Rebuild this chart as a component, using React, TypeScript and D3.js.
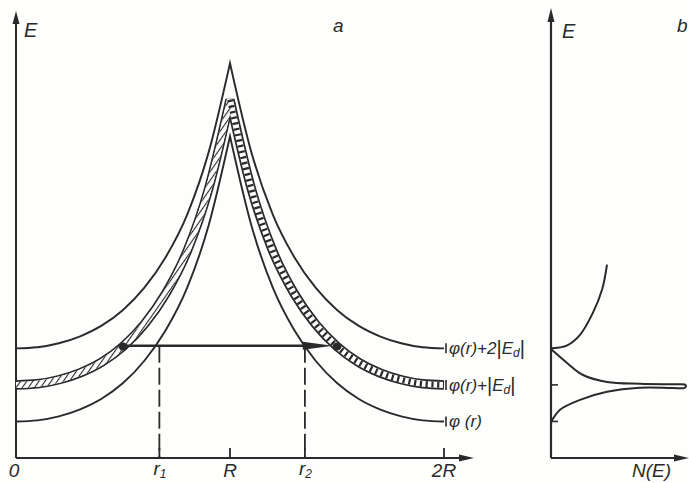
import React from "react";
import * as d3 from "d3";

// ---- data (energy in units of |E_d|, r in units of R) ----
const rFrac = [0, 0.1, 0.2, 0.3, 0.4, 0.5, 0.6, 0.7, 0.8, 0.9, 1.0];
const phiHalf = [0, 0.03, 0.14, 0.33, 0.62, 1.05, 1.66, 2.5, 3.66, 5.36, 7.8];
const levelShifts = [0, 1, 2];
const xTickLabels = ["0", "r1", "R", "r2", "2R"];
const xTickValues = [0, 0.67, 1, 1.35, 2];
const arrowE = 2.07;
const arrowStartR = 0.5;
const arrowTipR = 1.48;
const dotR = [0.5, 1.5];
const dosUpperN = [0, 0.06, 0.12, 0.215, 0.31, 0.378, 0.415];
const dosUpperE = [2.0, 2.02, 2.08, 2.37, 2.97, 3.6, 4.29];
const dosSpikeN = [0, 0.119, 0.237, 0.415, 0.659, 0.9, 0.99, 1.0, 0.99, 0.9, 0.659, 0.415, 0.215, 0.067, 0];
const dosSpikeE = [1.98, 1.6, 1.27, 1.08, 1.03, 1.015, 1.01, 0.97, 0.92, 0.915, 0.92, 0.81, 0.59, 0.32, -0.02];
const dosTicksE = [0, 1];

const W = 689, H = 483;
const INK = "#2a2a2a";
const PAPER = "#fefefc";
const FONT = "'Liberation Sans', Arial, sans-serif";

export default function App() {
  const x = d3.scaleLinear().domain([0, 2]).range([16, 444]);
  const y = d3.scaleLinear().domain([-1, 11.2]).range([458, 12]);
  const n = d3.scaleLinear().domain([0, 1]).range([551, 686]);

  const leftPts = rFrac.map((r, i) => ({ r, p: phiHalf[i] }));
  const rightPts = rFrac.map((r, i) => ({ r: 2 - r, p: phiHalf[i] })).sort((a, b) => a.r - b.r);

  const lineFor = (shift: number) =>
    d3.line<{ r: number; p: number }>()
      .x(d => x(d.r)).y(d => y(d.p + shift))
      .curve(d3.curveMonotoneX);
  const joined = (shift: number) =>
    (lineFor(shift)(leftPts) || "") + (lineFor(shift)(rightPts) || "").replace(/^M/, "L");

  const dosLine = d3.line<[number, number]>()
    .x(d => n(d[0])).y(d => y(d[1]))
    .curve(d3.curveCatmullRom.alpha(0.5));
  const upperPts: [number, number][] = dosUpperN.map((v, i) => [v, dosUpperE[i]]);
  const spikePts: [number, number][] = dosSpikeN.map((v, i) => [v, dosSpikeE[i]]);

  const ay = y(arrowE);
  const tipX = x(arrowTipR);
  const bandL = lineFor(1)(leftPts) || "";
  const bandR = lineFor(1)(rightPts) || "";
  const bandAll = joined(1);

  const txt = { fontFamily: FONT, fontStyle: "italic" as const, fill: INK };

  return (
    <svg width={W} height={H} style={{ position: "absolute", left: 0, top: 0, background: PAPER }}>
      <defs>
        <pattern id="hatch" patternUnits="userSpaceOnUse" width="5" height="5" patternTransform="rotate(35)">
          <rect width="5" height="5" fill={PAPER} />
          <line x1="0" y1="0" x2="0" y2="5" stroke={INK} strokeWidth="2.2" />
        </pattern>
      </defs>

      {/* panel a axes */}
      <line x1={16} y1={458} x2={16} y2={20} stroke={INK} strokeWidth={2} />
      <path d="M16,11 L12.5,24 L19.5,24 Z" fill={INK} />
      <line x1={16} y1={458} x2={462} y2={458} stroke={INK} strokeWidth={1.8} />
      <path d="M474,458 L459,454.5 L459,461.5 Z" fill={INK} />
      {xTickValues.map((v, i) => (
        <line key={"t" + i} x1={x(v)} x2={x(v)} y1={458} y2={i === 0 ? 458 : 448} stroke={INK} strokeWidth={1.8} />
      ))}

      {/* hatched band φ(r)+|Ed| */}
      <path d={bandAll} fill="none" stroke={INK} strokeWidth={9.5} strokeLinejoin="miter" strokeMiterlimit={2.2} />
      <path d={bandAll} fill="none" stroke={PAPER} strokeWidth={6} strokeLinejoin="miter" strokeMiterlimit={2.2} />
      <path d={bandL} fill="none" stroke="url(#hatch)" strokeWidth={6} />
      <path d={bandR} fill="none" stroke={INK} strokeWidth={6} strokeDasharray="2.2 3.6" />

      {/* curves φ(r), φ+2|Ed| */}
      {levelShifts.filter(s => s !== 1).map(s => (
        <path key={"c" + s} d={joined(s)} fill="none" stroke={INK} strokeWidth={1.9} strokeLinejoin="miter" strokeMiterlimit={10} />
      ))}

      {/* dashed verticals */}
      {[xTickValues[1], xTickValues[3]].map((v, i) => (
        <line key={"d" + i} x1={x(v)} x2={x(v)} y1={ay} y2={458} stroke={INK} strokeWidth={1.8} strokeDasharray="17 5" />
      ))}

      {/* transition arrow */}
      <line x1={x(arrowStartR)} y1={ay} x2={tipX - 20} y2={ay} stroke={INK} strokeWidth={2.6} />
      <path d={`M${tipX},${ay} L${tipX - 30},${ay - 4} L${tipX - 30},${ay + 4} Z`} fill={INK} />
      {dotR.map((r, i) => (
        <ellipse key={"dot" + i} cx={x(r)} cy={y(phiHalf[5] + 1)} rx={4.5} ry={4} fill={INK} />
      ))}

      {/* right-end labels */}
      {levelShifts.map(s => {
        const yy = y(phiHalf[0] + s);
        return (
          <g key={"l" + s}>
            <line x1={446} x2={446} y1={yy - 5} y2={yy + 5} stroke={INK} strokeWidth={1.6} />
            <text x={449} y={yy + 6} fontSize={17} {...txt}>
              {s === 0 ? "φ (r)" : (
                <>
                  <tspan>{s === 2 ? "φ(r)+2" : "φ(r)+"}</tspan>
                  <tspan fontStyle="normal" fontSize={20} dy={1}>|</tspan>
                  <tspan dy={-1}>E</tspan>
                  <tspan fontSize={12} dy={3}>d</tspan>
                  <tspan fontStyle="normal" fontSize={20} dy={-2}>|</tspan>
                </>
              )}
            </text>
          </g>
        );
      })}

      {/* x labels */}
      {xTickLabels.map((lab, i) => {
        const cx = x(xTickValues[i]);
        if (lab.startsWith("r")) {
          return (
            <text key={"x" + i} x={cx - 6} y={475} fontSize={19} {...txt}>
              r<tspan fontSize={12} dy={3}>{lab.slice(1)}</tspan>
            </text>
          );
        }
        return (
          <text key={"x" + i} x={i === 0 ? cx - 2 : cx} y={477} fontSize={19} textAnchor="middle" {...txt}>{lab}</text>
        );
      })}

      {/* titles */}
      <text x={24} y={37} fontSize={20} {...txt}>E</text>
      <text x={333} y={32} fontSize={19} {...txt}>a</text>

      {/* panel b */}
      <line x1={551} y1={458} x2={551} y2={18} stroke={INK} strokeWidth={2.2} />
      <path d="M551,8 L547.5,22 L554.5,22 Z" fill={INK} />
      <line x1={551} y1={458} x2={678} y2={458} stroke={INK} strokeWidth={1.8} />
      <path d="M689,458 L674,454.5 L674,461.5 Z" fill={INK} />
      {dosTicksE.map(e => (
        <line key={"bt" + e} x1={551} x2={558} y1={y(e)} y2={y(e)} stroke={INK} strokeWidth={1.6} />
      ))}
      <path d={dosLine(upperPts) || ""} fill="none" stroke={INK} strokeWidth={2} />
      <path d={dosLine(spikePts) || ""} fill="none" stroke={INK} strokeWidth={2} />
      <text x={562} y={38} fontSize={20} {...txt}>E</text>
      <text x={677} y={32} fontSize={19} {...txt}>b</text>
      <text x={632} y={477} fontSize={19} {...txt}>N(E)</text>
    </svg>
  );
}
